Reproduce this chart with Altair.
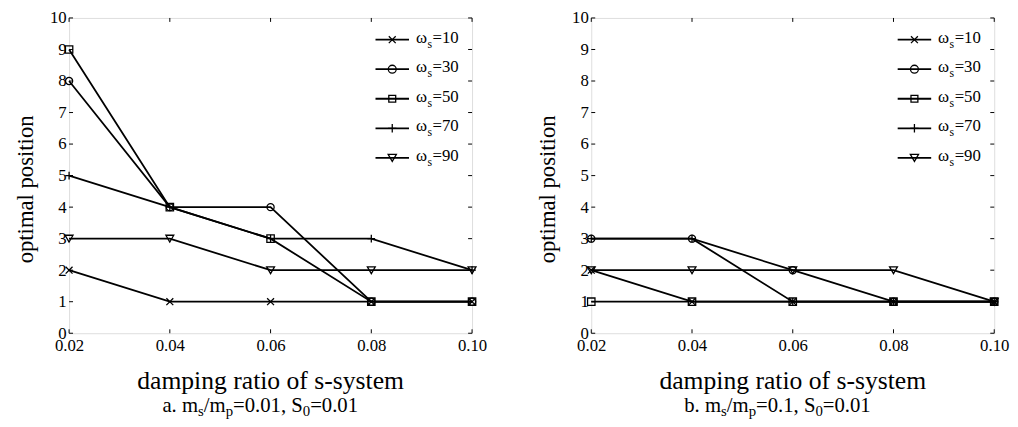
import altair as alt
import pandas as pd

# ---------------- data ----------------
damping = [0.02, 0.04, 0.06, 0.08, 0.10]
omega_values = ["10", "30", "50", "70", "90"]

# panel a: m_s/m_p = 0.01, S0 = 0.01
a_w10 = [2, 1, 1, 1, 1]
a_w30 = [8, 4, 4, 1, 1]
a_w50 = [9, 4, 3, 1, 1]
a_w70 = [5, 4, 3, 3, 2]
a_w90 = [3, 3, 2, 2, 2]

# panel b: m_s/m_p = 0.1, S0 = 0.01
b_w10 = [2, 1, 1, 1, 1]
b_w30 = [3, 3, 2, 1, 1]
b_w50 = [1, 1, 1, 1, 1]
b_w70 = [3, 3, 1, 1, 1]
b_w90 = [2, 2, 2, 2, 1]

x_ticks = [0.02, 0.04, 0.06, 0.08, 0.10]
y_ticks = list(range(0, 11))

x_title = "damping ratio of s-system"
y_title = "optimal position"
subtitle_a = [("a. m", False), ("s", True), ("/m", False), ("p", True),
              ("=0.01, S", False), ("0", True), ("=0.01", False)]
subtitle_b = [("b. m", False), ("s", True), ("/m", False), ("p", True),
              ("=0.1, S", False), ("0", True), ("=0.01", False)]

# ---------------- style ----------------
FONT = "Liberation Serif"
W, H = 409, 320
TL = 4  # inward tick length
X_PATH = "M-1,-1L1,1M-1,1L1,-1"
PLUS_PATH = "M0,-1L0,1M-1,0L1,0"
shapes = [X_PATH, "circle", "square", PLUS_PATH, "triangle-down"]
sizes = [49, 64, 49, 72, 70]

TIMES = {"a": 444, "b": 500, ".": 250, " ": 250, "m": 778, "s": 389, "/": 278,
         "p": 500, "=": 564, ",": 250, "S": 556, "ω": 686}
for _d in "0123456789":
    TIMES[_d] = 500


def tw(s, size):
    return sum(TIMES.get(c, 500) for c in s) * size / 1000.0


one = pd.DataFrame({"k": [0]})


def txt(t, x, y, size, align="left", baseline="alphabetic", angle=0):
    kw = dict(align=align, baseline=baseline, fontSize=size, font=FONT, color="black")
    if angle:
        kw["angle"] = angle
    return alt.Chart(one).mark_text(**kw).encode(
        x=alt.value(x), y=alt.value(y), text=alt.value(t))


def panel(series_values, subtitle, sub_cx):
    rows = []
    for lab, vals in zip(omega_values, series_values):
        for d, v in zip(damping, vals):
            rows.append({"d": d, "pos": v, "series": lab})
    df = pd.DataFrame(rows)

    xs = alt.Scale(domain=[0.02, 0.10], nice=False, zero=False)
    ys = alt.Scale(domain=[0, 10], nice=False, zero=True)
    xax = alt.Axis(values=x_ticks, format=".2f", ticks=False, tickSize=0, domain=False,
                   grid=False, labelPadding=5, title=None, labelFontSize=17,
                   labelFont=FONT, labelColor="black", labelFlush=False)
    yax = alt.Axis(values=y_ticks, format="d", ticks=False, tickSize=0, domain=False,
                   grid=False, labelPadding=3, title=None, labelFontSize=17,
                   labelFont=FONT, labelColor="black", labelFlush=False)
    X = alt.X("d:Q", scale=xs, axis=xax)
    Y = alt.Y("pos:Q", scale=ys, axis=yax)

    lines = alt.Chart(df).mark_line(color="black", strokeWidth=1.8).encode(
        x=X, y=Y, detail="series:N")
    pts = alt.Chart(df).mark_point(filled=False, color="black", strokeWidth=1.3,
                                   opacity=1).encode(
        x=X, y=Y,
        shape=alt.Shape("series:N", scale=alt.Scale(domain=omega_values, range=shapes),
                        legend=None),
        size=alt.Size("series:N", scale=alt.Scale(domain=omega_values, range=sizes),
                      legend=None))

    ydf = pd.DataFrame({"pos": y_ticks})
    xdf = pd.DataFrame({"d": x_ticks})
    rule = dict(color="black", strokeWidth=1)
    t_left = alt.Chart(ydf).mark_rule(**rule).encode(y=Y, x=alt.value(0), x2=alt.value(TL))
    t_right = alt.Chart(ydf).mark_rule(**rule).encode(y=Y, x=alt.value(W - TL), x2=alt.value(W))
    t_bot = alt.Chart(xdf).mark_rule(**rule).encode(x=X, y=alt.value(H - TL), y2=alt.value(H))
    t_top = alt.Chart(xdf).mark_rule(**rule).encode(x=X, y=alt.value(0), y2=alt.value(TL))

    layers = [lines, pts, t_left, t_right, t_bot, t_top]

    # legend (drawn inside plot, top right)
    for i, lab in enumerate(omega_values):
        ry = 22 + 30 * i
        layers.append(alt.Chart(one).mark_rule(color="black", strokeWidth=1.8).encode(
            x=alt.value(311), x2=alt.value(345), y=alt.value(ry)))
        layers.append(alt.Chart(one).mark_point(shape=shapes[i], size=sizes[i], filled=False,
                                                color="black", strokeWidth=1.3, opacity=1).encode(
            x=alt.value(328), y=alt.value(ry)))
        x0 = 352
        layers.append(txt("ω", x0, ry + 3, 17))
        x1 = x0 + tw("ω", 17)
        layers.append(txt("s", x1, ry + 8, 12))
        x2 = x1 + tw("s", 12) + 0.5
        layers.append(txt("=" + lab, x2, ry + 3, 17))

    # x title
    layers.append(txt(x_title, W / 2, 377, 26, align="center"))
    # y title
    layers.append(txt(y_title, -44, 174, 23, align="center", baseline="middle", angle=270))

    # subtitle with subscripts
    fs, sfs = 21, 15
    total = sum(tw(t, sfs if sub else fs) for t, sub in subtitle)
    x = sub_cx - total / 2
    for t, sub in subtitle:
        size = sfs if sub else fs
        layers.append(txt(t, x, 400 + (4 if sub else 0), size))
        x += tw(t, size)

    return alt.layer(*layers).properties(width=W, height=H)


pa = panel([a_w10, a_w30, a_w50, a_w70, a_w90], subtitle_a, 194)
pb = panel([b_w10, b_w30, b_w50, b_w70, b_w90], subtitle_b, 189)

chart = alt.hconcat(pa, pb, spacing=121, bounds="flush").properties(
    padding={"left": 6, "top": -3, "right": 0, "bottom": 0}
).configure_view(stroke="black", strokeWidth=1).configure(font=FONT).configure_axis(
    labelFont=FONT, labelColor="black").configure_text(font=FONT)

chart.save("out.html", embed_options={"renderer": "svg", "actions": False})
